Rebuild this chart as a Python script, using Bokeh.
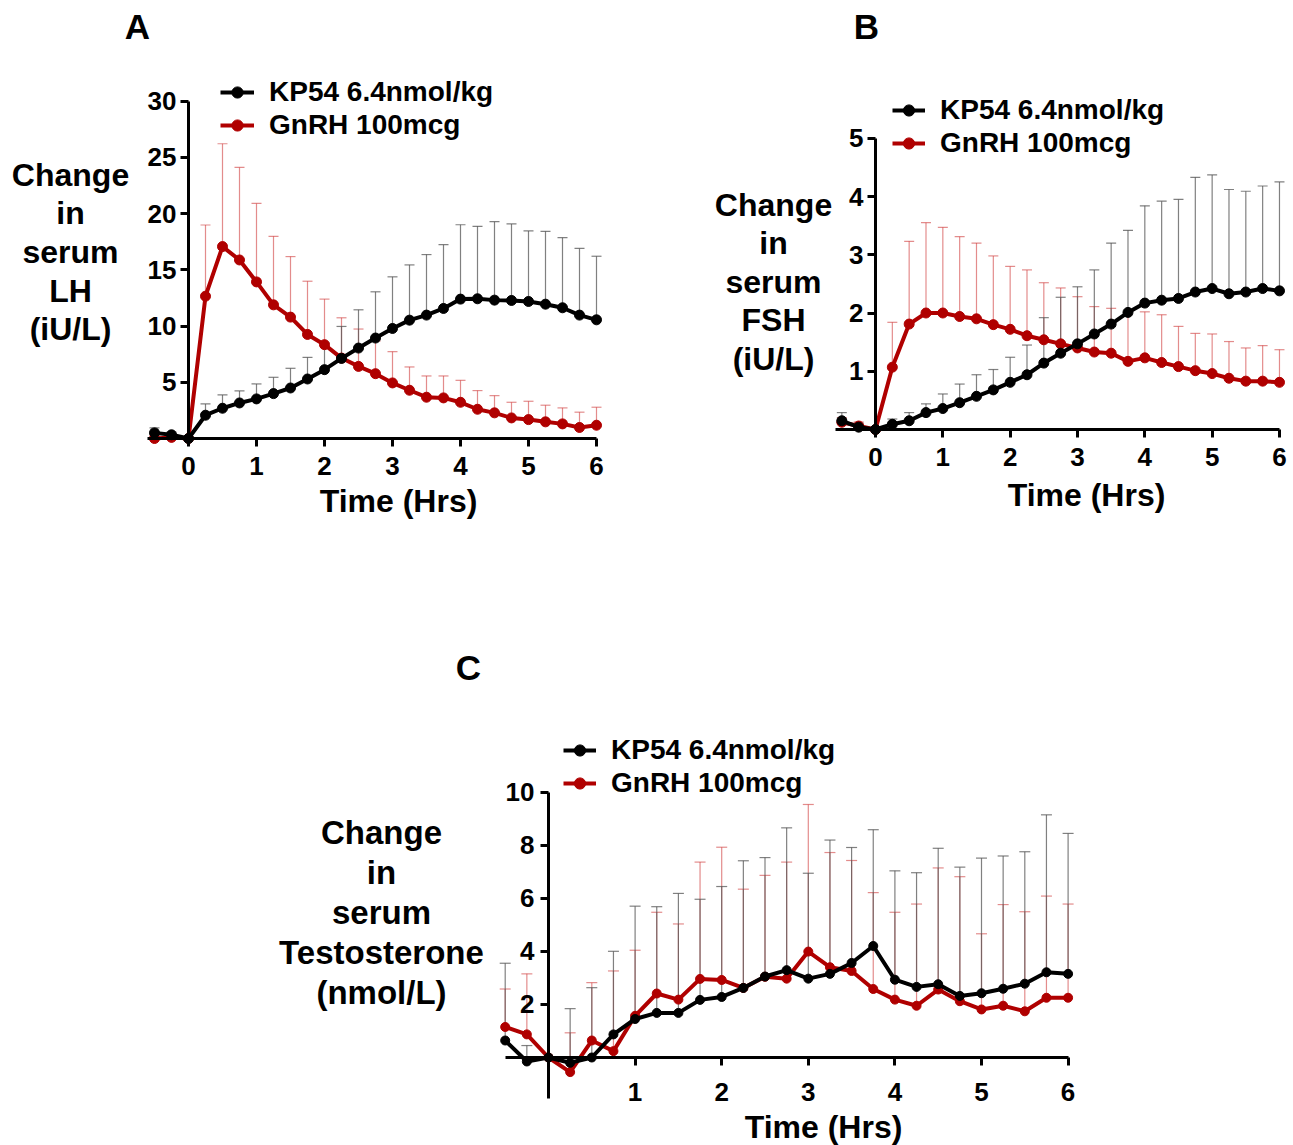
from bokeh.plotting import figure
from bokeh.layouts import column, row
from bokeh.models import (ColumnDataSource, Whisker, TeeHead, Label, Legend,
                          LegendItem, FixedTicker, Range1d)
from bokeh.embed import file_html
from bokeh.resources import INLINE

# ---------------------------------------------------------------- data
hours = [-0.5, -0.25, 0.0, 0.25, 0.5, 0.75, 1.0, 1.25, 1.5, 1.75, 2.0, 2.25, 2.5,
         2.75, 3.0, 3.25, 3.5, 3.75, 4.0, 4.25, 4.5, 4.75, 5.0, 5.25, 5.5, 5.75, 6.0]

series_names = ["KP54 6.4nmol/kg", "GnRH 100mcg"]

# Change in serum LH (iU/L): mean and SEM
lh_kp54 = [0.50, 0.33, 0.0, 2.07, 2.69, 3.16, 3.52, 3.99, 4.49, 5.29, 6.12, 7.12, 8.04,
           8.93, 9.78, 10.52, 10.97, 11.56, 12.39, 12.42, 12.30, 12.27, 12.18, 11.94,
           11.62, 10.97, 10.55]
lh_kp54_sem = [0.45, 0.25, 0.0, 1.00, 1.18, 1.07, 1.33, 1.45, 1.75, 1.92, 2.38, 2.84,
               3.40, 4.11, 4.59, 4.91, 5.38, 5.67, 6.61, 6.44, 6.97, 6.80, 6.27, 6.48,
               6.23, 5.93, 5.65]
lh_gnrh = [0.0, 0.10, 0.0, 12.65, 17.06, 15.87, 13.92, 11.88, 10.79, 9.25, 8.34, 7.15,
           6.41, 5.76, 4.94, 4.29, 3.67, 3.61, 3.22, 2.60, 2.28, 1.83, 1.68, 1.48, 1.30,
           0.98, 1.18]
lh_gnrh_sem = [0.30, 0.20, 0.0, 6.33, 9.14, 8.23, 6.98, 6.09, 5.38, 4.73, 4.05, 3.58,
               3.32, 2.90, 2.78, 2.07, 1.89, 1.95, 1.95, 1.66, 1.53, 1.39, 1.63, 1.48,
               1.42, 1.36, 1.60]

# Change in serum FSH (iU/L): mean and SEM
fsh_kp54 = [0.15, 0.04, 0.0, 0.09, 0.15, 0.29, 0.36, 0.46, 0.57, 0.68, 0.81, 0.94,
            1.14, 1.31, 1.47, 1.64, 1.81, 2.01, 2.17, 2.22, 2.25, 2.36, 2.42, 2.33,
            2.36, 2.42, 2.38]
fsh_kp54_sem = [0.14, 0.07, 0.0, 0.09, 0.14, 0.15, 0.25, 0.32, 0.37, 0.35, 0.43, 0.51,
                0.78, 0.96, 0.98, 1.10, 1.39, 1.41, 1.67, 1.70, 1.70, 1.97, 1.95, 1.79,
                1.73, 1.76, 1.87]
fsh_gnrh = [0.125, 0.06, 0.0, 1.07, 1.81, 2.00, 2.00, 1.94, 1.90, 1.80, 1.72, 1.61,
            1.54, 1.47, 1.40, 1.33, 1.31, 1.17, 1.23, 1.15, 1.08, 1.01, 0.96, 0.88,
            0.83, 0.83, 0.81]
fsh_gnrh_sem = [0.08, 0.07, 0.0, 0.77, 1.42, 1.55, 1.47, 1.37, 1.30, 1.18, 1.08, 1.13,
                0.98, 0.96, 0.88, 0.78, 0.77, 0.85, 0.79, 0.82, 0.69, 0.64, 0.68, 0.63,
                0.57, 0.61, 0.56]

# Change in serum testosterone (nmol/L): mean and SEM
t_kp54 = [0.64, -0.15, 0.0, -0.20, 0.0, 0.87, 1.45, 1.68, 1.68, 2.17, 2.28, 2.62,
          3.05, 3.29, 2.97, 3.15, 3.56, 4.20, 2.93, 2.66, 2.76, 2.32, 2.42, 2.59,
          2.78, 3.21, 3.15]
t_kp54_sem = [2.91, 0.60, 0.0, 2.04, 2.63, 3.13, 4.25, 4.00, 4.50, 3.79, 4.16, 4.79,
              4.48, 5.36, 3.97, 5.04, 4.35, 4.38, 4.10, 4.30, 5.12, 4.85, 5.09, 5.00,
              4.97, 5.93, 5.29]
t_gnrh = [1.15, 0.87, 0.0, -0.55, 0.64, 0.24, 1.57, 2.41, 2.18, 2.96, 2.92, 2.62,
          3.04, 2.97, 3.99, 3.40, 3.26, 2.58, 2.18, 1.95, 2.56, 2.12, 1.81, 1.95,
          1.74, 2.25, 2.25]
t_gnrh_sem = [1.43, 2.28, 0.0, 1.48, 2.18, 3.02, 2.47, 3.06, 2.85, 4.40, 5.00, 3.72,
              3.82, 4.39, 5.54, 4.32, 4.16, 3.63, 3.29, 3.83, 4.58, 4.69, 2.85, 3.81,
              3.75, 3.83, 3.53]

# ---------------------------------------------------------------- style
FONT = "Liberation Sans"
BLACK = "#000000"
RED = "#b00000"
ERR_COLORS = {BLACK: ("#555555", 0.75), RED: ("#d04040", 0.6)}


class Panel:
    """A figure whose frame fills the canvas; axes are pinned at the data origin."""

    def __init__(self, width, height, origin, scale):
        self.ox, self.oy = origin
        self.sx, self.sy = scale
        self.p = figure(
            width=width, height=height,
            x_range=Range1d(-self.ox / self.sx, (width - self.ox) / self.sx),
            y_range=Range1d((self.oy - height) / self.sy, self.oy / self.sy),
            output_backend="svg", toolbar_location=None, min_border=0,
            background_fill_color="white", border_fill_color="white",
            outline_line_color=None,
        )
        self.p.xgrid.visible = False
        self.p.ygrid.visible = False

    def dx(self, px):
        return (px - self.ox) / self.sx

    def dy(self, py):
        return (self.oy - py) / self.sy

    def axes(self, xbounds, xticks, ybounds, yticks, tick_size="26px",
             xstandoff=10, ystandoff=5):
        for ax in (self.p.xaxis[0], self.p.yaxis[0]):
            ax.fixed_location = 0
            ax.axis_line_width = 3
            ax.axis_line_color = BLACK
            ax.major_tick_line_width = 3
            ax.major_tick_line_color = BLACK
            ax.major_tick_out = 8
            ax.major_tick_in = 0
            ax.minor_tick_line_color = None
            ax.major_label_text_font = FONT
            ax.major_label_text_font_style = "bold"
            ax.major_label_text_font_size = tick_size
            ax.major_label_text_color = BLACK
        xa, ya = self.p.xaxis[0], self.p.yaxis[0]
        xa.bounds = xbounds
        ya.bounds = ybounds
        xa.ticker = FixedTicker(ticks=xticks, minor_ticks=[])
        ya.ticker = FixedTicker(ticks=yticks, minor_ticks=[])
        xa.major_label_standoff = xstandoff
        ya.major_label_standoff = ystandoff

    def text(self, s, px, py, size, align="center", baseline="alphabetic"):
        self.p.add_layout(Label(
            x=self.dx(px), y=self.dy(py), text=s, text_align=align,
            text_baseline=baseline, text_font=FONT, text_font_style="bold",
            text_font_size=size, text_color=BLACK))

    def series(self, means, sems, color, lw, msize, cap):
        upper = [m + s for m, s in zip(means, sems)]
        src = ColumnDataSource(dict(x=hours, y=means, top=upper))
        ecol, ealpha = ERR_COLORS[color]
        self.p.add_layout(Whisker(
            source=src, base="x", lower="y", upper="top", dimension="height",
            line_color=ecol, line_alpha=ealpha, line_width=1.2, lower_head=None,
            upper_head=TeeHead(size=cap, line_color=ecol, line_alpha=ealpha,
                               line_width=1.2)))
        ln = self.p.line("x", "y", source=src, line_color=color, line_width=lw)
        sc = self.p.scatter("x", "y", source=src, size=msize, fill_color=color,
                            line_color=color)
        return [ln, sc]

    def legend(self, items, left_px, first_row_px, height, glyph_w, size,
               row_h=32, spacing=1):
        # the two rows are row_h tall; place the box so the first row is centred
        top_px = first_row_px - row_h / 2
        bottom_px = top_px + 2 * row_h + spacing
        leg = Legend(
            items=[LegendItem(label=name, renderers=r) for name, r in items],
            location=(left_px, height - bottom_px), orientation="vertical",
            border_line_color=None, background_fill_alpha=0, padding=0, margin=0,
            spacing=spacing, glyph_width=glyph_w, glyph_height=28, label_height=28,
            label_standoff=15, label_text_font=FONT, label_text_font_style="bold",
            label_text_font_size=size, label_text_color=BLACK)
        self.p.add_layout(leg)


def build(panel, kp, kp_sem, gn, gn_sem, lw, msize, cap):
    gn_r = panel.series(gn, gn_sem, RED, lw, msize, cap)
    kp_r = panel.series(kp, kp_sem, BLACK, lw, msize, cap)
    return [(series_names[0], kp_r), (series_names[1], gn_r)]


# ---------------------------------------------------------------- panel A: LH
A = Panel(645, 560, origin=(188, 438), scale=(68.0, 11.25))
A.axes((-0.6, 6), [0, 1, 2, 3, 4, 5, 6], (0, 30), [5, 10, 15, 20, 25, 30],
       xstandoff=10, ystandoff=4)
items = build(A, lh_kp54, lh_kp54_sem, lh_gnrh, lh_gnrh_sem, 4, 10, 10)
A.legend(items, 220, 92, 560, 34, "28px")
A.text("A", 137, 26, "35px")
for i, s in enumerate(["Change", "in", "serum", "LH", "(iU/L)"]):
    A.text(s, 70, 174 + 38.7 * i, "32px")
A.text("Time (Hrs)", 398, 500, "32px")

# ---------------------------------------------------------------- panel B: FSH
B = Panel(648, 560, origin=(230, 429), scale=(67.33, 58.25))
B.axes((-0.6, 6), [0, 1, 2, 3, 4, 5, 6], (0, 5), [1, 2, 3, 4, 5],
       xstandoff=10, ystandoff=4)
items = build(B, fsh_kp54, fsh_kp54_sem, fsh_gnrh, fsh_gnrh_sem, 4, 10, 10)
B.legend(items, 247, 110, 560, 33, "28px")
B.text("B", 221, 26, "35px")
for i, s in enumerate(["Change", "in", "serum", "FSH", "(iU/L)"]):
    B.text(s, 128, 204 + 38.5 * i, "32px")
B.text("Time (Hrs)", 441, 494, "32px")

# ---------------------------------------------------------------- panel C: testosterone
C = Panel(1293, 585, origin=(548, 497), scale=(86.6, 26.55))
C.axes((-0.5, 6), [1, 2, 3, 4, 5, 6], (-1.55, 10), [2, 4, 6, 8, 10],
       xstandoff=17, ystandoff=6)
items = build(C, t_kp54, t_kp54_sem, t_gnrh, t_gnrh_sem, 4, 9, 11)
C.legend(items, 563, 190, 585, 33, "28px")
C.text("C", 468, 107, "35px")
for i, s in enumerate(["Change", "in", "serum", "Testosterone", "(nmol/L)"]):
    C.text(s, 381, 272 + 40 * i, "33px")
C.text("Time (Hrs)", 823, 566, "32px")

layout = column(row(A.p, B.p), C.p)
open("out.html", "w").write(file_html(layout, INLINE))
